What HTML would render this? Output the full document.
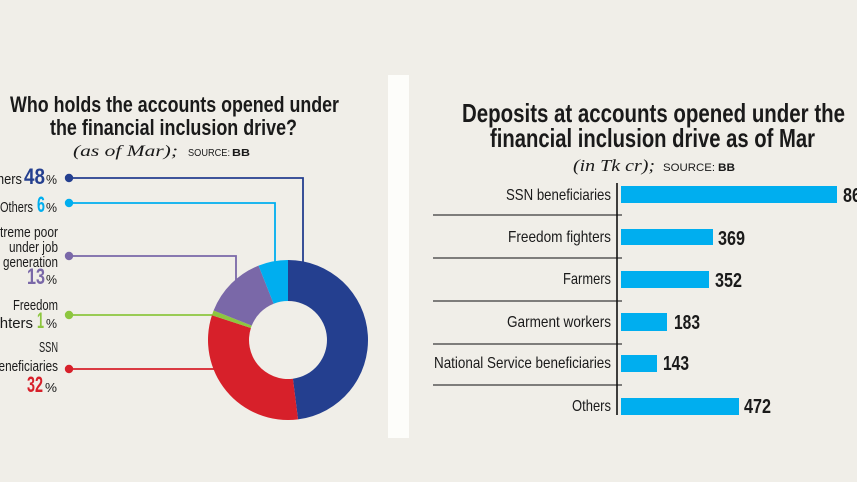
<!DOCTYPE html>
<html><head><meta charset="utf-8"><style>
html,body{margin:0;padding:0;background:#f0eee8;}
svg{display:block;}
text{font-family:"Liberation Sans Narrow","Liberation Sans",sans-serif;fill:#1a1a1a;}
.t{font-weight:bold;}
.it{font-family:"Liberation Serif",serif;font-style:italic;}
.sc{font-family:"Liberation Sans",sans-serif;}
</style></head><body>
<svg width="857" height="482" viewBox="0 0 857 482" xmlns="http://www.w3.org/2000/svg">
<rect width="857" height="482" fill="#f0eee8"/>
<rect x="388" y="75" width="21" height="363" fill="#fdfdfa"/>

<!-- LEFT TITLE -->
<text class="t" x="10" y="112" font-size="22" textLength="329" lengthAdjust="spacingAndGlyphs">Who holds the accounts opened under</text>
<text class="t" x="50" y="135" font-size="22" textLength="247" lengthAdjust="spacingAndGlyphs">the financial inclusion drive?</text>
<text class="it" x="73" y="156" font-size="16" textLength="105" lengthAdjust="spacingAndGlyphs">(as of Mar);</text>
<text class="sc" x="188" y="156" font-size="10" textLength="42" lengthAdjust="spacingAndGlyphs">SOURCE:</text>
<text class="sc" x="232" y="156" font-size="10" font-weight="bold" textLength="18" lengthAdjust="spacingAndGlyphs">BB</text>

<!-- connector lines -->
<g fill="none" stroke-width="1.8">
<polyline points="69,178 303,178 303,270" stroke="#243f8f"/>
<polyline points="69,203 275,203 275,270" stroke="#00aeef"/>
<polyline points="69,256 236,256 236,290" stroke="#7a68a8"/>
<polyline points="69,315 220,315" stroke="#8dc63f"/>
<polyline points="69,369 220,369" stroke="#d7202a"/>
</g>
<circle cx="69" cy="178" r="4.2" fill="#243f8f"/>
<circle cx="69" cy="203" r="4.2" fill="#00aeef"/>
<circle cx="69" cy="256" r="4.2" fill="#7a68a8"/>
<circle cx="69" cy="315" r="4.2" fill="#8dc63f"/>
<circle cx="69" cy="369" r="4.2" fill="#d7202a"/>

<!-- donut -->
<path d="M288,260 A80,80 0 0 1 298.03,419.37 L292.89,378.69 A39,39 0 0 0 288,301 Z" fill="#243f8f"/>
<path d="M298.03,419.37 A80,80 0 0 1 211.92,315.28 L250.91,327.95 A39,39 0 0 0 292.89,378.69 Z" fill="#d7202a"/>
<path d="M211.92,315.28 A80,80 0 0 1 213.62,310.55 L251.74,325.64 A39,39 0 0 0 250.91,327.95 Z" fill="#8dc63f"/>
<path d="M213.62,310.55 A80,80 0 0 1 258.55,265.62 L273.64,303.74 A39,39 0 0 0 251.74,325.64 Z" fill="#7a68a8"/>
<path d="M258.55,265.62 A80,80 0 0 1 288,260 L288,301 A39,39 0 0 0 273.64,303.74 Z" fill="#00aeef"/>

<!-- left labels -->
<text x="-26" y="184" font-size="15" textLength="48" lengthAdjust="spacingAndGlyphs">Farmers</text>
<text class="t" x="24" y="184" font-size="22" style="fill:#243f8f" textLength="21" lengthAdjust="spacingAndGlyphs">48</text>
<text x="46" y="184" font-size="13" textLength="11" lengthAdjust="spacingAndGlyphs">%</text>

<text x="0" y="212" font-size="15" textLength="33" lengthAdjust="spacingAndGlyphs">Others</text>
<text class="t" x="37" y="212" font-size="22" style="fill:#00aeef" textLength="8" lengthAdjust="spacingAndGlyphs">6</text>
<text x="46" y="212" font-size="13" textLength="11" lengthAdjust="spacingAndGlyphs">%</text>

<text x="-14" y="237" font-size="15" textLength="72" lengthAdjust="spacingAndGlyphs">Extreme poor</text>
<text x="9" y="252" font-size="15" textLength="49" lengthAdjust="spacingAndGlyphs">under job</text>
<text x="3" y="267" font-size="15" textLength="55" lengthAdjust="spacingAndGlyphs">generation</text>
<text class="t" x="27" y="284" font-size="22" style="fill:#7a68a8" textLength="18" lengthAdjust="spacingAndGlyphs">13</text>
<text x="46" y="284" font-size="13" textLength="11" lengthAdjust="spacingAndGlyphs">%</text>

<text x="13" y="310" font-size="15" textLength="45" lengthAdjust="spacingAndGlyphs">Freedom</text>
<text x="-16" y="328" font-size="15" textLength="49" lengthAdjust="spacingAndGlyphs">fighters</text>
<text class="t" x="37" y="328" font-size="22" style="fill:#8dc63f" textLength="7" lengthAdjust="spacingAndGlyphs">1</text>
<text x="46" y="328" font-size="13" textLength="11" lengthAdjust="spacingAndGlyphs">%</text>

<text x="39" y="352" font-size="15" textLength="19" lengthAdjust="spacingAndGlyphs">SSN</text>
<text x="-8" y="371" font-size="15" textLength="66" lengthAdjust="spacingAndGlyphs">beneficiaries</text>
<text class="t" x="27" y="392" font-size="22" style="fill:#d7202a" textLength="16" lengthAdjust="spacingAndGlyphs">32</text>
<text x="45" y="392" font-size="13" textLength="12" lengthAdjust="spacingAndGlyphs">%</text>

<!-- RIGHT TITLE -->
<text class="t" x="462" y="122" font-size="26" textLength="383" lengthAdjust="spacingAndGlyphs">Deposits at accounts opened under the</text>
<text class="t" x="490" y="147" font-size="26" textLength="325" lengthAdjust="spacingAndGlyphs">financial inclusion drive as of Mar</text>
<text class="it" x="573" y="171" font-size="17" textLength="82" lengthAdjust="spacingAndGlyphs">(in Tk cr);</text>
<text class="sc" x="663" y="171" font-size="11" textLength="52" lengthAdjust="spacingAndGlyphs">SOURCE:</text>
<text class="sc" x="718" y="171" font-size="11" font-weight="bold" textLength="17" lengthAdjust="spacingAndGlyphs">BB</text>

<!-- separators & axis -->
<g stroke="#3a3a3a" stroke-width="1.2">
<line x1="433" y1="215" x2="622" y2="215"/>
<line x1="433" y1="258" x2="622" y2="258"/>
<line x1="433" y1="301" x2="622" y2="301"/>
<line x1="433" y1="344" x2="622" y2="344"/>
<line x1="433" y1="385" x2="622" y2="385"/>
</g>
<line x1="617" y1="183" x2="617" y2="415" stroke="#111" stroke-width="1.6"/>

<!-- bars -->
<g fill="#00aeef">
<rect x="621" y="186" width="216" height="17"/>
<rect x="621" y="229" width="92" height="16"/>
<rect x="621" y="271" width="88" height="17"/>
<rect x="621" y="313" width="46" height="18"/>
<rect x="621" y="355" width="36" height="17"/>
<rect x="621" y="398" width="118" height="17"/>
</g>

<!-- category labels -->
<text x="506" y="200" font-size="16" textLength="105" lengthAdjust="spacingAndGlyphs">SSN beneficiaries</text>
<text x="508" y="242" font-size="16" textLength="103" lengthAdjust="spacingAndGlyphs">Freedom fighters</text>
<text x="563" y="284" font-size="16" textLength="48" lengthAdjust="spacingAndGlyphs">Farmers</text>
<text x="507" y="327" font-size="16" textLength="104" lengthAdjust="spacingAndGlyphs">Garment workers</text>
<text x="434" y="368" font-size="16" textLength="177" lengthAdjust="spacingAndGlyphs">National Service beneficiaries</text>
<text x="572" y="411" font-size="16" textLength="39" lengthAdjust="spacingAndGlyphs">Others</text>

<!-- values -->
<text class="t" x="843" y="202" font-size="20" textLength="27" lengthAdjust="spacingAndGlyphs">860</text>
<text class="t" x="718" y="245" font-size="20" textLength="27" lengthAdjust="spacingAndGlyphs">369</text>
<text class="t" x="715" y="287" font-size="20" textLength="27" lengthAdjust="spacingAndGlyphs">352</text>
<text class="t" x="674" y="329" font-size="20" textLength="26" lengthAdjust="spacingAndGlyphs">183</text>
<text class="t" x="663" y="370" font-size="20" textLength="26" lengthAdjust="spacingAndGlyphs">143</text>
<text class="t" x="744" y="413" font-size="20" textLength="27" lengthAdjust="spacingAndGlyphs">472</text>
</svg>
</body></html>
